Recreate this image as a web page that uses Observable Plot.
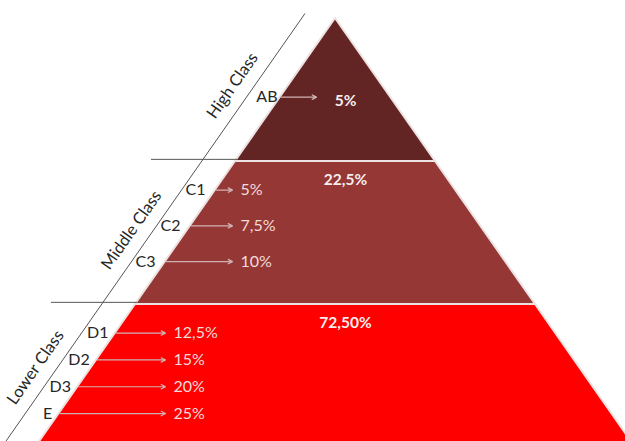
<!DOCTYPE html>
<html><head><meta charset="utf-8">
<script src="https://cdn.jsdelivr.net/npm/d3@7"></script>
<script src="https://cdn.jsdelivr.net/npm/@observablehq/plot@0.6"></script>
<style>
html,body{margin:0;padding:0;background:#fff;overflow:hidden;}
#chart svg{display:block;overflow:hidden;}
</style>
</head><body><div id="chart"></div>
<script>
// ---- data ----
const classes = ["High Class", "Middle Class", "Lower Class"];
const classShares = ["5%", "22,5%", "72,50%"];
const subCodes = ["AB", "C1", "C2", "C3", "D1", "D2", "D3", "E"];
const subClass = ["High Class", "Middle Class", "Middle Class", "Middle Class",
                  "Lower Class", "Lower Class", "Lower Class", "Lower Class"];
const subShares = ["5%", "5%", "7,5%", "10%", "12,5%", "15%", "20%", "25%"];

// ---- layout / style (not data) ----
const unitPx = 100;
const bandFill = ["#632523", "#953735", "#ff0000"];
const arrowEnd = [-0.19, -1.03, -1.70];
const labelGap = [3, 10, 7];
const classLabelShift = [0.47, 0.48, 0.44];
const lineOffset = 0.34;
const diag = lvl => -lvl - lineOffset;

const bands = classes.map((c, i) => ({name: c, share: classShares[i], i, top: i, bottom: i + 1, fill: bandFill[i]}));
const bandPoly = bands.flatMap(b => [
  {band: b.name, y: b.top, x1: -b.top, x2: b.top, fill: b.fill},
  {band: b.name, y: b.bottom, x1: -b.bottom, x2: b.bottom, fill: b.fill}
]);

const subs = subCodes.map((code, k) => {
  const b = classes.indexOf(subClass[k]);
  const members = subCodes.filter((_, m) => subClass[m] === subClass[k]);
  const j = members.indexOf(code);
  const n = members.length;
  const y = n === 1 ? b + 0.55 : b + 0.2 + j * 0.75 / n;
  return {code, share: subShares[k], b, y, edge: -y, end: arrowEnd[b], showShare: n > 1};
});

const guide = [{y1: -0.035, y2: 3.1}];
const separators = bands.slice(1).map(b => ({y: b.top - 0.015}));

const font = "Lato, 'Open Sans', sans-serif";

const chart = Plot.plot({
  width: 625,
  height: 441,
  margin: 0,
  x: {domain: [-1, 1], range: [335 - unitPx, 335 + unitPx], axis: null},
  y: {domain: [0, 1], range: [18, 161], axis: null},
  color: {type: "identity"},
  style: {fontFamily: font, background: "#fff"},
  marks: [
    Plot.areaX(bandPoly, {y: "y", x1: "x1", x2: "x2", z: "band", fill: "fill", stroke: "#ece2e2", strokeWidth: 2}),
    Plot.link(guide, {x1: d => diag(d.y1), y1: "y1", x2: d => diag(d.y2), y2: "y2", stroke: "#555", strokeWidth: 1}),
    Plot.link(separators, {x1: d => diag(d.y) - 0.52, y1: "y", x2: d => -d.y, y2: "y", stroke: "#555", strokeWidth: 1}),
    Plot.text(bands, {x: d => diag(d.i + classLabelShift[d.i]) - 0.22, y: d => d.i + classLabelShift[d.i], text: "name", rotate: -55,
      fontSize: 16.5, fill: "#262626", fontFamily: font}),
    Plot.text(subs, {x: d => d.edge - labelGap[d.b] / unitPx, y: "y", text: "code", textAnchor: "end",
      fontSize: 16, fill: "#262626", fontFamily: font}),
    Plot.arrow(subs, {x1: d => d.edge + 0.01, y1: "y", x2: "end", y2: "y", stroke: "#cfb3b3", strokeWidth: 1.2, headLength: 6, headAngle: 55}),
    Plot.text(subs.filter(d => d.showShare), {x: "end", y: "y", text: "share", textAnchor: "start", dx: 8,
      fontSize: 16, fill: "#f2dcdb", fontFamily: font}),
    Plot.text(bands, {x: () => 0.1, y: d => d.i === 0 ? 0.58 : d.i + 0.13, text: "share", fontWeight: "bold",
      fontSize: 15.5, fill: "#f6eeee", fontFamily: font})
  ]
});
document.getElementById("chart").appendChild(chart);
</script>
</body></html>
